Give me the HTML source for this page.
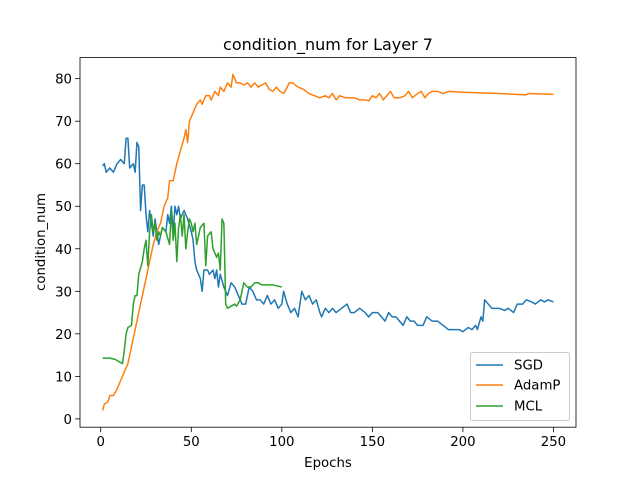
<!DOCTYPE html>
<html><head><meta charset="utf-8"><style>body{margin:0;background:#fff}svg{font-family:"DejaVu Sans","Liberation Sans",sans-serif}</style></head>
<body>
<svg id="c" width="640" height="480"></svg>
<script>
const sgdX=[1,2,3,5,7,9,11,13,14,15,16,18,19,20,21,22,23,24,25,26,27,29,30,32,34,36,37,38,39,40,41,42,43,44,46,48,50,51,52,53,55,56,57,59,60,62,63,64,65,66,68,70,72,74,76,78,80,82,84,86,88,90,92,94,96,98,100,101,103,105,107,109,111,113,115,117,119,121,122,124,126,128,130,133,136,138,140,143,146,148,150,153,155,157,159,161,163,165,167,169,171,173,175,178,180,183,186,189,192,195,198,200,203,205,207,208,210,211,212,214,216,220,223,225,228,230,233,235,238,240,243,245,247,250];
const sgdY=[59.5,60,58,59,58,60,61,60,66,66,59,60,58,65,64,49,55,55,48,44,49,43,47,41,45,44,48,46,50,44,50,48,50,47,49,47,44,42,37,35,33,30,35,35,34,35,33,35,31,34,31,29,32,31,29,27,27,31,30,28,28,27,29,27,28,26,27,30,27,25,26,24,30,28,29,27,28,25,24,26,25,26,25,26,27,25,25,26,25,24,25,25,24,23,25,24,24,23,22,24,23,23,22,22,24,23,23,22,21,21,21,20.5,21.5,21,22,21,24,23,28,27,26,26,25.5,26,25,27,27,28,27.5,27,28,27.5,28,27.5];
const adamX=[1,2,4,5,7,9,11,13,15,17,19,21,23,25,27,29,31,33,35,37,38,40,42,44,46,47,48,49,51,53,55,56,58,60,61,63,65,66,68,70,72,73,75,77,79,81,83,85,87,89,91,93,95,97,99,101,103,104,106,109,112,115,118,121,124,126,128,130,132,135,137,140,143,146,148,150,152,154,156,158,160,162,165,168,170,172,175,177,179,181,183,186,189,192,200,220,235,236,250];
const adamY=[2,3.5,4,5.5,5.5,7,9,11,13,17,21,25,29,33,37,41,44,46,50,52,56,56,60,63,66,68,65,70,72,74,75,74,76,76,75,77,76,78,77,79,78,81,79,79,78.5,79,78,79,78,78.5,79,77.5,77,78,77,76.5,78,79,79,78,77.5,76.5,76,75.5,76,75.5,76.5,75,76,75.5,75.5,75.5,75,75,74.8,76,75.5,76.5,75,76,77,75.5,75.5,76,77,75.5,76.5,77,75.5,76.5,77,77,76.5,77,76.8,76.5,76.2,76.5,76.3];
const mclX=[1,5,8,10,12,13,14,15,17,18,19,20,21,23,24,25,26,27,28,29,30,31,32,33,34,36,38,39,40,41,42,43,44,45,46,47,48,49,50,51,52,53,55,57,58,59,61,62,64,65,66,67,68,69,70,72,74,75,77,79,81,83,85,87,89,91,95,100];
const mclY=[14.3,14.3,14,13.5,13,16,20,21.5,22,27,29,29,34,37,40,42,36,44,48,44,46,42,44,43,45,44,41,49,42,46,37,45,48,43,48,40,44,47,46,44,46,41,45,46,36,43,44,40,38,39,35,47,46,27,26,26.5,27,26.5,28,32,31,31,32,32,31.5,31.5,31.5,31];
const xTicks=[0,50,100,150,200,250];
const yTicks=[0,10,20,30,40,50,60,70,80];
const L=80,R=576,T=57.6,B=427.2,xmin=-11.45,xmax=262.45,ymin=-1.95,ymax=84.95;
const sx=v=>L+(v-xmin)/(xmax-xmin)*(R-L), sy=v=>B-(v-ymin)/(ymax-ymin)*(B-T);
const svg=document.getElementById('c');const NS='http://www.w3.org/2000/svg';
function mk(t,a,p){const e=document.createElementNS(NS,t);for(const k in a)e.setAttribute(k,a[k]);(p||svg).appendChild(e);return e;}
function line(xs,ys,col,name){const e=mk('polyline',{points:xs.map((x,i)=>sx(x)+','+sy(ys[i])).join(' '),fill:'none',stroke:col,'stroke-width':1.5,'stroke-linejoin':'round'});

}
line(sgdX,sgdY,'#1f77b4','sgd-line');
line(adamX,adamY,'#ff7f0e','adamp-line');
line(mclX,mclY,'#2ca02c','mcl-line');
const fr=mk('rect',{x:L,y:T,width:R-L,height:B-T,fill:'none',stroke:'#000','stroke-width':0.8});


xTicks.forEach(v=>{const x=sx(v);mk('line',{x1:x,x2:x,y1:B,y2:B+4.9,stroke:'#000','stroke-width':0.8});
const t=mk('text',{x:x,y:B+19,'text-anchor':'middle','font-size':13.3});t.textContent=v;

});
yTicks.forEach(v=>{const y=sy(v);mk('line',{x1:L-4.9,x2:L,y1:y,y2:y,stroke:'#000','stroke-width':0.8});
const t=mk('text',{x:L-8,y:y+5,'text-anchor':'end','font-size':13.3});t.textContent=v;

});
</script>
<svg width="640" height="480" style="position:absolute;left:0;top:0">
<text x="328" y="50" text-anchor="middle" font-size="16">condition_num for Layer 7</text>
<text x="328" y="467" text-anchor="middle" font-size="13.3">Epochs</text>
<text x="0" y="0" transform="translate(45,242) rotate(-90)" text-anchor="middle" font-size="13.3">condition_num</text>
<g>
<rect x="470.5" y="352.5" width="99" height="68" rx="2" fill="#fff" fill-opacity="0.8" stroke="#ccc"/>
<g><line x1="476" x2="503" y1="365" y2="365" stroke="#1f77b4" stroke-width="1.5"/><text x="514" y="369.5" font-size="13.3">SGD</text></g>
<g><line x1="476" x2="503" y1="385" y2="385" stroke="#ff7f0e" stroke-width="1.5"/><text x="514" y="389.5" font-size="13.3">AdamP</text></g>
<g><line x1="476" x2="503" y1="406" y2="406" stroke="#2ca02c" stroke-width="1.5"/><text x="514" y="410.5" font-size="13.3">MCL</text></g>
</g>
</svg>
</body></html>
